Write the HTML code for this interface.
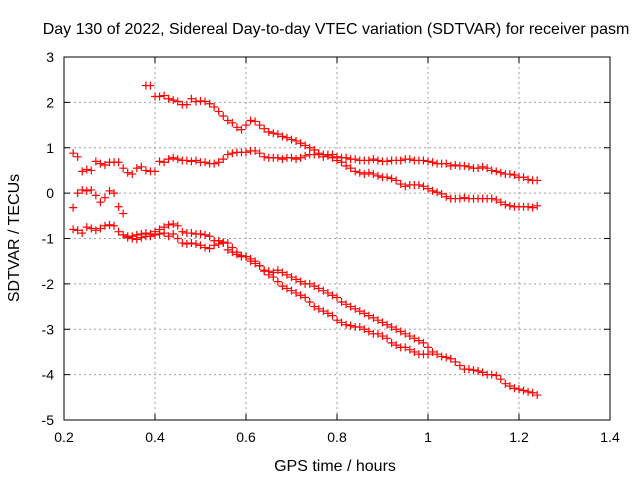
<!DOCTYPE html>
<html><head><meta charset="utf-8"><style>
body{margin:0;background:#fff}
svg{display:block;font-family:"Liberation Sans",sans-serif}
</style></head><body>
<svg id="chart" width="640" height="480">
<text x="336" y="34" font-size="16" text-anchor="middle">Day 130 of 2022, Sidereal Day-to-day VTEC variation (SDTVAR) for receiver pasm</text>
<text x="335" y="471" font-size="16" text-anchor="middle">GPS time / hours</text>
<text transform="translate(19,238) rotate(-90)" font-size="16" text-anchor="middle">SDTVAR / TECUs</text>
<g id="grid"></g>
<g id="ticks"></g>
<g id="marks"></g>
<rect x="64" y="57" width="546" height="363" fill="none" stroke="#000" stroke-width="1"/>
</svg>
<script>
const xTicks=[0.2,0.4,0.6,0.8,1,1.2,1.4];
const yTicks=[3,2,1,0,-1,-2,-3,-4,-5];
const seriesStart=[0.38,0.22,0.22,0.22,0.33];
const seriesA=[2.37,2.37,2.13,2.13,2.15,2.08,2.05,2.02,1.95,1.95,2.08,2.02,2.03,2.02,1.97,1.9,1.8,1.7,1.6,1.55,1.45,1.4,1.5,1.6,1.58,1.5,1.42,1.35,1.32,1.3,1.25,1.22,1.18,1.15,1.1,1.05,1.0,0.95,0.88,0.85,0.82,0.78,0.72,0.68,0.6,0.55,0.48,0.45,0.42,0.45,0.42,0.38,0.35,0.35,0.32,0.28,0.2,0.15,0.18,0.18,0.18,0.15,0.1,0.05,0.02,-0.02,-0.08,-0.12,-0.12,-0.12,-0.1,-0.12,-0.12,-0.12,-0.12,-0.12,-0.12,-0.15,-0.2,-0.25,-0.28,-0.3,-0.3,-0.3,-0.3,-0.32,-0.28];
const seriesB=[0.88,0.8,0.48,0.52,0.5,0.7,0.65,0.62,0.68,0.68,0.68,0.55,0.45,0.42,0.55,0.58,0.5,0.48,0.48,0.7,0.68,0.75,0.78,0.75,0.72,0.72,0.7,0.72,0.68,0.68,0.65,0.65,0.68,0.75,0.85,0.88,0.9,0.9,0.9,0.93,0.93,0.88,0.8,0.78,0.78,0.78,0.75,0.78,0.78,0.75,0.78,0.82,0.85,0.85,0.85,0.8,0.85,0.85,0.8,0.78,0.78,0.75,0.75,0.72,0.72,0.72,0.75,0.72,0.7,0.7,0.72,0.72,0.72,0.75,0.75,0.72,0.72,0.72,0.7,0.68,0.65,0.65,0.65,0.6,0.62,0.6,0.6,0.58,0.55,0.55,0.58,0.55,0.5,0.48,0.45,0.42,0.42,0.4,0.35,0.35,0.3,0.28,0.28];
const seriesC=[-0.32,0.0,0.07,0.05,0.07,-0.05,-0.2,-0.1,0.05,0.0,-0.3];
const seriesD=[-0.8,-0.82,-0.88,-0.75,-0.78,-0.82,-0.78,-0.72,-0.7,-0.72,-0.85,-0.92,-0.98,-0.95,-0.92,-0.9,-0.88,-0.9,-0.85,-0.8,-0.75,-0.7,-0.68,-0.72,-0.85,-0.88,-0.88,-0.9,-0.9,-0.92,-0.95,-1.05,-1.05,-1.08,-1.1,-1.2,-1.3,-1.4,-1.4,-1.5,-1.55,-1.6,-1.7,-1.72,-1.75,-1.7,-1.75,-1.8,-1.85,-1.9,-1.95,-2.0,-2.0,-2.05,-2.1,-2.15,-2.2,-2.25,-2.3,-2.4,-2.45,-2.5,-2.55,-2.6,-2.65,-2.7,-2.75,-2.8,-2.85,-2.9,-2.95,-3.0,-3.05,-3.1,-3.15,-3.2,-3.25,-3.3,-3.4,-3.5,-3.55,-3.6,-3.62,-3.65,-3.72,-3.8,-3.88,-3.88,-3.9,-3.92,-3.95,-4.0,-4.0,-4.02,-4.1,-4.2,-4.25,-4.3,-4.32,-4.35,-4.38,-4.4,-4.45];
const seriesE=[-0.45,-0.95,-1.0,-1.02,-0.98,-0.95,-0.95,-0.92,-0.9,-0.88,-0.95,-0.9,-1.0,-1.1,-1.12,-1.1,-1.12,-1.15,-1.2,-1.22,-1.15,-1.12,-1.1,-1.25,-1.3,-1.35,-1.38,-1.4,-1.45,-1.5,-1.6,-1.72,-1.8,-1.85,-1.95,-2.05,-2.1,-2.15,-2.2,-2.25,-2.3,-2.4,-2.5,-2.55,-2.6,-2.65,-2.7,-2.8,-2.85,-2.9,-2.92,-2.95,-2.95,-3.0,-3.05,-3.1,-3.1,-3.15,-3.2,-3.3,-3.35,-3.4,-3.4,-3.45,-3.5,-3.55,-3.55,-3.55];
const allSeries=[seriesA,seriesB,seriesC,seriesD,seriesE];
const step=0.01;

const NS="http://www.w3.org/2000/svg";
const X0=64,X1=610,Y0=57,Y1=420;
function sx(v){return X0+(v-0.2)/(1.4-0.2)*(X1-X0);}
function sy(v){return Y1-(v-(-5))/(3-(-5))*(Y1-Y0);}
function mk(tag,attrs,parent){const e=document.createElementNS(NS,tag);for(const k in attrs)e.setAttribute(k,attrs[k]);parent.appendChild(e);return e;}
const grid=document.getElementById('grid'),ticks=document.getElementById('ticks'),marks=document.getElementById('marks');
xTicks.forEach(t=>{
  const x=sx(t);
  if(t>0.2&&t<1.4){const g=mk('line',{x1:x,x2:x,y1:Y0,y2:Y1,stroke:'#a0a0a0','stroke-dasharray':'2,3'},grid);
  
  }
  mk('line',{x1:x,x2:x,y1:Y1,y2:Y1-6,stroke:'#000'},ticks);
  mk('line',{x1:x,x2:x,y1:Y0,y2:Y0+6,stroke:'#000'},ticks);
  const l=mk('text',{x:x,y:Y1+22,'font-size':14,'text-anchor':'middle'},ticks);
  l.textContent=String(t);
  
  
});
yTicks.forEach(t=>{
  const y=sy(t);
  if(t<3&&t>-5){const g=mk('line',{x1:X0,x2:X1,y1:y,y2:y,stroke:'#a0a0a0','stroke-dasharray':'2,3'},grid);
  
  }
  mk('line',{x1:X0,x2:X0+6,y1:y,y2:y,stroke:'#000'},ticks);
  mk('line',{x1:X1,x2:X1-6,y1:y,y2:y,stroke:'#000'},ticks);
  const l=mk('text',{x:X0-10,y:y+5,'font-size':14,'text-anchor':'end'},ticks);
  l.textContent=String(t);
  
  
});
allSeries.forEach((s,si)=>{
  s.forEach((v,i)=>{
    const x=sx(seriesStart[si]+i*step),y=sy(v);
    const p=mk('path',{d:`M${x-4},${y}H${x+4}M${x},${y-4}V${y+4}`,stroke:'#f00','stroke-width':1.2,fill:'none'},marks);
    
    
  });
});
</script>
</body></html>
